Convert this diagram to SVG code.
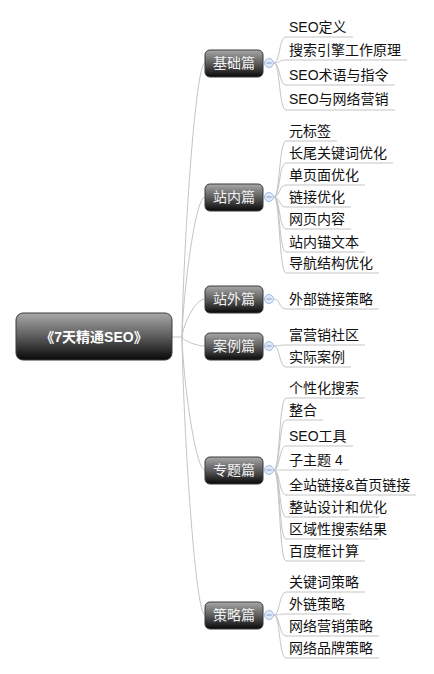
<svg xmlns="http://www.w3.org/2000/svg" width="434" height="674" viewBox="0 0 434 674">
<defs>
<linearGradient id="g" x1="0" y1="0" x2="0" y2="1">
<stop offset="0" stop-color="#a8a8a8"/>
<stop offset="0.5" stop-color="#5c5c5c"/>
<stop offset="1" stop-color="#080808"/>
</linearGradient>
<style>
.box{fill:url(#g);stroke:#3a3a3a;stroke-width:1}
.root{font-family:"Liberation Sans","Noto Sans CJK SC",sans-serif;font-size:14px;font-weight:bold;fill:#fff;text-anchor:middle}
.cat{font-family:"Liberation Sans","Noto Sans CJK SC",sans-serif;font-size:14px;fill:#f2f2f2;text-anchor:middle}
.leaf{font-family:"Liberation Sans","Noto Sans CJK SC",sans-serif;font-size:14px;fill:#111}
.ln{fill:none;stroke:#c4c4c4;stroke-width:1}
.tg{fill:#dfe9f8;stroke:#a3bbe3;stroke-width:1}
.tm{stroke:#7d9cd2;stroke-width:1}
</style>
</defs>
<g id="connectors">
<path class="ln" d="M172 337 H182"/>
<path class="ln" d="M182 337 C183 255 195 63 205 63"/>
<path class="ln" d="M182 337 C183 295 195 197 205 197"/>
<path class="ln" d="M182 337 C183 325 195 299 205 299"/>
<path class="ln" d="M182 337 C183 340 195 346 205 346"/>
<path class="ln" d="M182 337 C183 377 195 470 205 470"/>
<path class="ln" d="M182 337 C183 420 195 615 205 615"/>
<!-- 基础篇 leaves -->
<path class="ln" d="M274 63 C280 63 279 37 286 37 H353"/>
<path class="ln" d="M274 63 C280 63 279 60 286 60 H407"/>
<path class="ln" d="M274 63 C280 63 279 85 286 85 H395"/>
<path class="ln" d="M274 63 C280 63 279 110 286 110 H395"/>
<!-- 站内篇 leaves -->
<path class="ln" d="M274 197 C280 197 279 141 286 141 H337"/>
<path class="ln" d="M274 197 C280 197 279 163 286 163 H393"/>
<path class="ln" d="M274 197 C280 197 279 185 286 185 H365"/>
<path class="ln" d="M274 197 C280 197 279 207 286 207 H351"/>
<path class="ln" d="M274 197 C280 197 279 229 286 229 H351"/>
<path class="ln" d="M274 197 C280 197 279 252 286 252 H365"/>
<path class="ln" d="M274 197 C280 197 279 273 286 273 H379"/>
<!-- 站外篇 -->
<path class="ln" d="M274 299 C280 299 279 309 286 309 H379"/>
<!-- 案例篇 -->
<path class="ln" d="M274 346 C280 346 279 345 286 345 H365"/>
<path class="ln" d="M274 346 C280 346 279 367 286 367 H351"/>
<!-- 专题篇 -->
<path class="ln" d="M274 470 C280 470 279 398 286 398 H365"/>
<path class="ln" d="M274 470 C280 470 279 420 286 420 H323"/>
<path class="ln" d="M274 470 C280 470 279 446 286 446 H353"/>
<path class="ln" d="M274 470 C280 470 279 470 286 470 H349"/>
<path class="ln" d="M274 470 C280 470 279 495 286 495 H416"/>
<path class="ln" d="M274 470 C280 470 279 517 286 517 H379"/>
<path class="ln" d="M274 470 C280 470 279 539 286 539 H379"/>
<path class="ln" d="M274 470 C280 470 279 561 286 561 H365"/>
<!-- 策略篇 -->
<path class="ln" d="M274 615 C280 615 279 592 286 592 H365"/>
<path class="ln" d="M274 615 C280 615 279 614 286 614 H351"/>
<path class="ln" d="M274 615 C280 615 279 636 286 636 H379"/>
<path class="ln" d="M274 615 C280 615 279 658 286 658 H379"/>
</g>
<g id="root">
<rect class="box" x="16" y="313" width="156" height="47" rx="7"/>
<text class="root" x="94" y="342">《7天精通SEO》</text>
</g>
<g id="cat-jichu">
<rect class="box" x="205" y="50" width="58" height="27" rx="5"/>
<text class="cat" x="234" y="68">基础篇</text>
<circle class="tg" cx="269" cy="63" r="4.5"/><line class="tm" x1="266.5" y1="63" x2="271.5" y2="63"/>
</g>
<g id="cat-zhannei">
<rect class="box" x="205" y="184" width="58" height="27" rx="5"/>
<text class="cat" x="234" y="202">站内篇</text>
<circle class="tg" cx="269" cy="197" r="4.5"/><line class="tm" x1="266.5" y1="197" x2="271.5" y2="197"/>
</g>
<g id="cat-zhanwai">
<rect class="box" x="205" y="286" width="58" height="27" rx="5"/>
<text class="cat" x="234" y="304">站外篇</text>
<circle class="tg" cx="269" cy="299" r="4.5"/><line class="tm" x1="266.5" y1="299" x2="271.5" y2="299"/>
</g>
<g id="cat-anli">
<rect class="box" x="205" y="333" width="58" height="27" rx="5"/>
<text class="cat" x="234" y="351">案例篇</text>
<circle class="tg" cx="269" cy="346" r="4.5"/><line class="tm" x1="266.5" y1="346" x2="271.5" y2="346"/>
</g>
<g id="cat-zhuanti">
<rect class="box" x="205" y="457" width="58" height="27" rx="5"/>
<text class="cat" x="234" y="475">专题篇</text>
<circle class="tg" cx="269" cy="470" r="4.5"/><line class="tm" x1="266.5" y1="470" x2="271.5" y2="470"/>
</g>
<g id="cat-celue">
<rect class="box" x="205" y="602" width="58" height="27" rx="5"/>
<text class="cat" x="234" y="620">策略篇</text>
<circle class="tg" cx="269" cy="615" r="4.5"/><line class="tm" x1="266.5" y1="615" x2="271.5" y2="615"/>
</g>
<g id="leaves">
<text class="leaf" x="289" y="32">SEO定义</text>
<text class="leaf" x="289" y="55">搜索引擎工作原理</text>
<text class="leaf" x="289" y="80">SEO术语与指令</text>
<text class="leaf" x="289" y="104">SEO与网络营销</text>
<text class="leaf" x="289" y="136">元标签</text>
<text class="leaf" x="289" y="158">长尾关键词优化</text>
<text class="leaf" x="289" y="180">单页面优化</text>
<text class="leaf" x="289" y="202">链接优化</text>
<text class="leaf" x="289" y="224">网页内容</text>
<text class="leaf" x="289" y="247">站内锚文本</text>
<text class="leaf" x="289" y="268">导航结构优化</text>
<text class="leaf" x="289" y="304">外部链接策略</text>
<text class="leaf" x="289" y="340">富营销社区</text>
<text class="leaf" x="289" y="362">实际案例</text>
<text class="leaf" x="289" y="393">个性化搜索</text>
<text class="leaf" x="289" y="415">整合</text>
<text class="leaf" x="289" y="441">SEO工具</text>
<text class="leaf" x="289" y="465">子主题 4</text>
<text class="leaf" x="289" y="490">全站链接&amp;首页链接</text>
<text class="leaf" x="289" y="512">整站设计和优化</text>
<text class="leaf" x="289" y="534">区域性搜索结果</text>
<text class="leaf" x="289" y="556">百度框计算</text>
<text class="leaf" x="289" y="587">关键词策略</text>
<text class="leaf" x="289" y="609">外链策略</text>
<text class="leaf" x="289" y="631">网络营销策略</text>
<text class="leaf" x="289" y="653">网络品牌策略</text>
</g>
</svg>
